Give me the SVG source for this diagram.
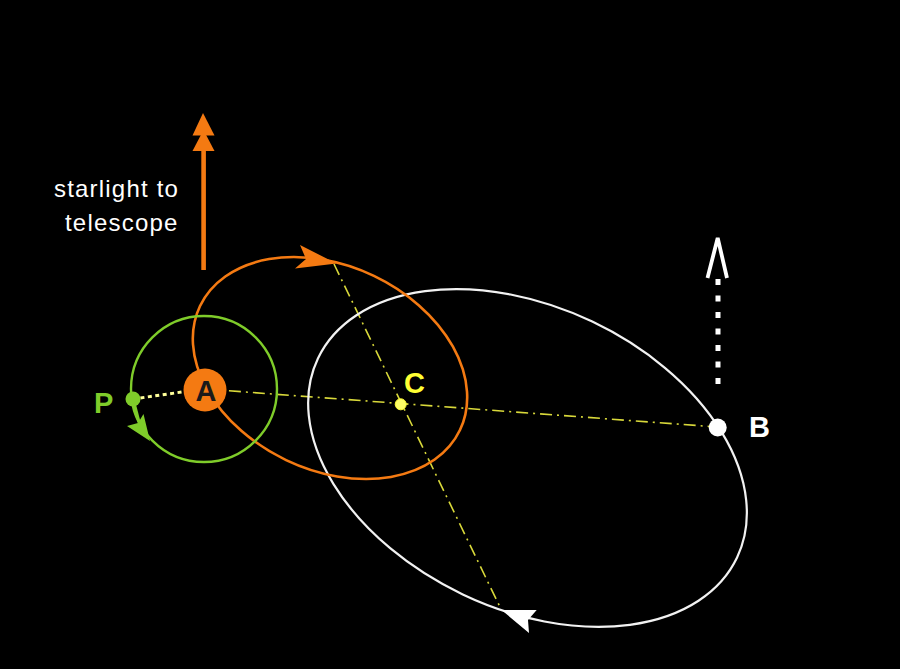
<svg xmlns="http://www.w3.org/2000/svg" width="900" height="669" viewBox="0 0 900 669">
<style>
.lbl{font-family:"Liberation Sans",Arial,sans-serif;font-weight:bold;font-size:29px}
.cap{font-family:"Liberation Sans",Arial,sans-serif;font-size:24px;fill:#ffffff;letter-spacing:1.2px}
.dd{stroke:#d8d83a;stroke-width:1.6;fill:none;stroke-dasharray:12 5 2 5}
</style>
<rect x="0" y="0" width="900" height="669" fill="#000000"/>
<g id="connectors">
<line x1="205" y1="389" x2="717" y2="427" class="dd"/>
<line x1="334" y1="264" x2="500" y2="607" class="dd"/>
<line x1="133" y1="399" x2="196" y2="390" stroke="#ffff99" stroke-width="3" stroke-dasharray="4 3.5"/>
</g>
<g id="orbit-B">
<ellipse cx="527.5" cy="458" rx="232" ry="151" transform="rotate(25.4 527.5 458)" fill="none" stroke="#f2f2f2" stroke-width="2.2"/>
<polygon points="501.5,610 536.7,610 528,620 529,633" fill="#ffffff"/>
</g>
<g id="orbit-A">
<ellipse cx="330" cy="368" rx="144" ry="102" transform="rotate(25.5 330 368)" fill="none" stroke="#f47a12" stroke-width="2.6"/>
<polygon points="336.5,263.5 300,245 306,259 295,268.5" fill="#f47a12"/>
</g>
<g id="orbit-P">
<circle cx="204" cy="389" r="73" fill="none" stroke="#7fcc2a" stroke-width="2.4"/>
<line x1="133" y1="399" x2="139" y2="422" stroke="#7fcc2a" stroke-width="3"/>
<polygon points="150,441 127,426 138,423 143.5,414" fill="#7fcc2a"/>
</g>
<g id="starlight-arrow">
<rect x="201.3" y="148" width="4.6" height="122" fill="#f47a12"/>
<polygon points="192.5,151 214.5,151 203.5,130" fill="#f47a12"/>
<polygon points="192.5,135.5 214.5,135.5 203,113" fill="#f47a12"/>
<text class="cap" x="54" y="197">starlight to</text>
<text class="cap" x="65" y="231">telescope</text>
</g>
<g id="B-motion">
<line x1="718" y1="279" x2="718" y2="384" stroke="#ffffff" stroke-width="5" stroke-dasharray="6 10.5"/>
<polyline points="707.5,278 717.7,238 727,278" fill="none" stroke="#ffffff" stroke-width="3.8" stroke-linejoin="miter"/>
</g>
<g id="node-P">
<circle cx="133" cy="399" r="7.5" fill="#7fcc2a"/>
<text class="lbl" x="94" y="413" fill="#7fcc2a">P</text>
</g>
<g id="node-A">
<circle cx="205" cy="390" r="21.5" fill="#f47a12"/>
<text class="lbl" x="206" y="401" fill="#1a1a1a" text-anchor="middle" font-size="27">A</text>
</g>
<g id="node-C">
<circle cx="400.7" cy="404.3" r="5.5" fill="#ffff66" stroke="#ffff33" stroke-width="1"/>
<text class="lbl" x="404" y="393" fill="#ffff33" font-size="31">C</text>
</g>
<g id="node-B">
<circle cx="717.7" cy="427.5" r="9" fill="#ffffff"/>
<text class="lbl" x="749" y="437" fill="#ffffff">B</text>
</g>
</svg>
